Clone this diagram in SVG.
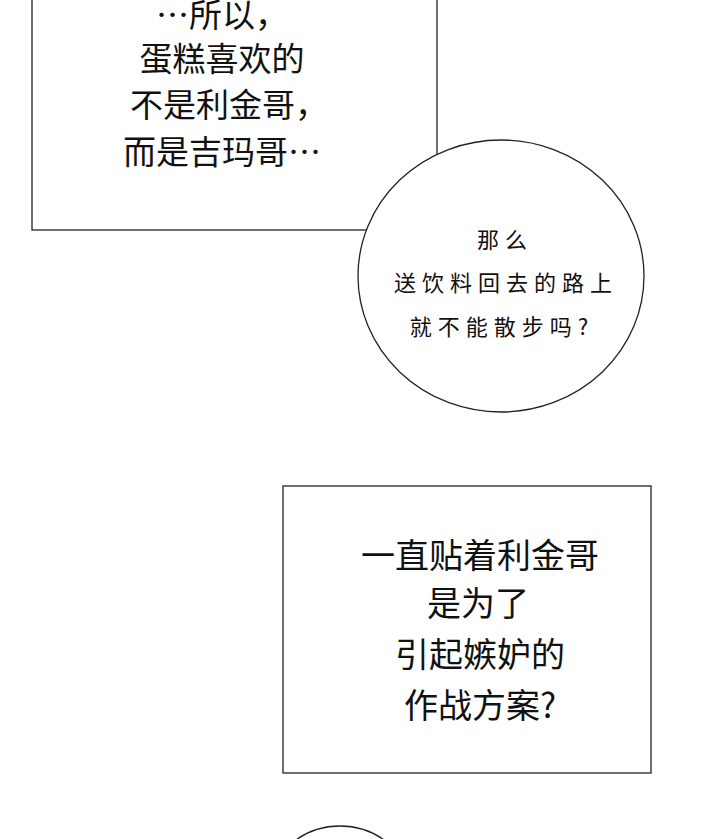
<svg xmlns="http://www.w3.org/2000/svg" width="720" height="839" viewBox="0 0 720 839">
<style>
.b{fill:#fff;stroke:#222;stroke-width:1.3}
.t{font-family:"Noto Sans CJK SC","Noto Sans",sans-serif;fill:#111;text-anchor:middle}
.l{font-size:33px}
.m{font-size:34px}
.s{font-size:22px;letter-spacing:6px}
</style>
<rect width="720" height="839" fill="#fff"/>
<g id="box1">
<rect class="b" x="32" y="-2" width="405" height="232"/>
<text class="t l" x="222" y="27">…所以，</text>
<text class="t l" x="222" y="71">蛋糕喜欢的</text>
<text class="t l" x="229" y="117">不是利金哥，</text>
<text class="t l" x="222" y="164">而是吉玛哥…</text>
</g>
<g id="bubble">
<ellipse class="b" cx="501" cy="276" rx="143" ry="136"/>
<text class="t s" x="505" y="248">那么</text>
<text class="t s" x="506" y="291">送饮料回去的路上</text>
<text class="t s" x="502" y="335">就不能散步吗?</text>
</g>
<g id="box2">
<rect class="b" x="283" y="486" width="368" height="287"/>
<text class="t m" x="480" y="568">一直贴着利金哥</text>
<text class="t m" x="478" y="616">是为了</text>
<text class="t m" x="480" y="667">引起嫉妒的</text>
<text class="t m" x="480" y="718">作战方案?</text>
</g>
<g id="bubble2">
<ellipse class="b" cx="340" cy="900" rx="75" ry="74"/>
</g>
</svg>
